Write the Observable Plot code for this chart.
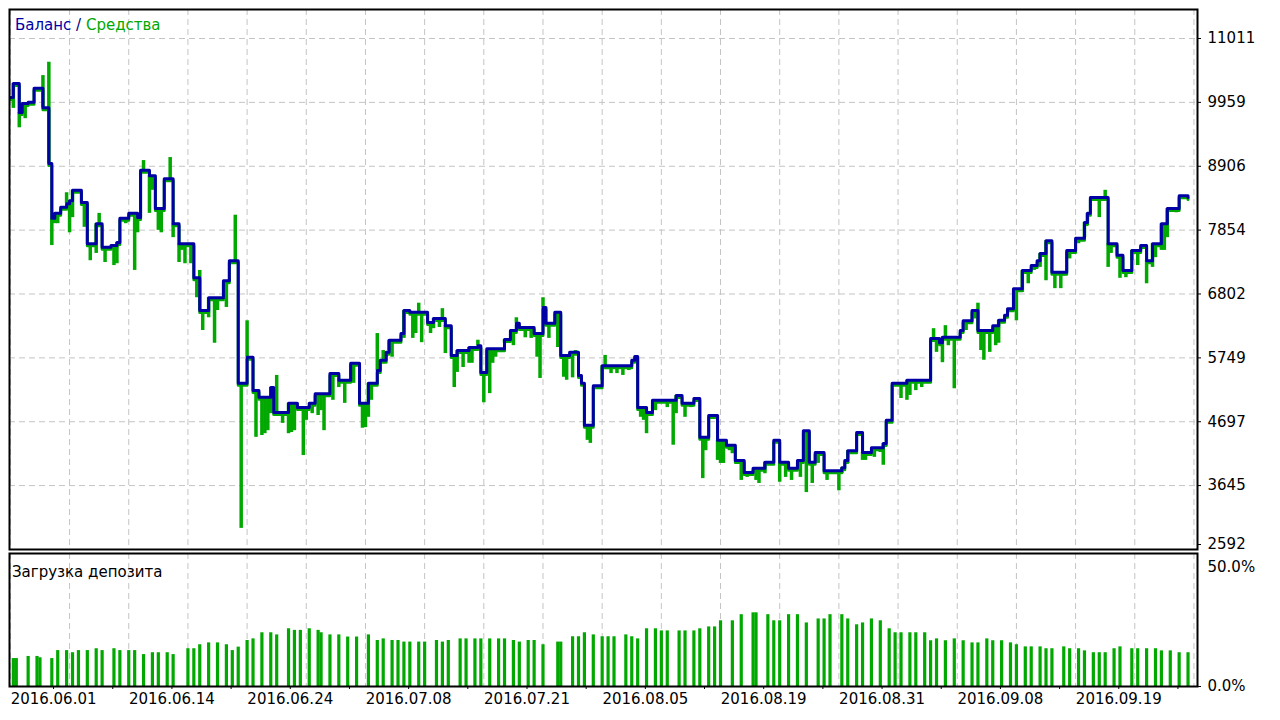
<!DOCTYPE html>
<html><head><meta charset="utf-8">
<script src="https://cdn.jsdelivr.net/npm/d3@7"></script>
<script src="https://cdn.jsdelivr.net/npm/@observablehq/plot@0.6"></script>
<style>
body{margin:0;background:#fff;font-family:"DejaVu Sans",sans-serif;}
#wrap{position:relative;width:1280px;height:720px;overflow:hidden;background:#fff}
#top,#bot{position:absolute;left:0}
#top{top:0}
#bot{top:552px}
.lbl{position:absolute;font-size:15px;line-height:18px;white-space:nowrap}
</style></head><body>
<div id="wrap"><div id="top"></div><div id="bot"></div>
<div class="lbl" style="left:15px;top:16px"><span style="color:#0000a5">Баланс</span> <span style="color:#00007a">/</span> <span style="color:#00a800">Средства</span></div>
<div class="lbl" style="left:12px;top:563px;color:#000">Загрузка депозита</div>
</div>
<script>
// Balance (step line): trade number and balance value
const balT = [0,1,3,4,6,8,11,13,14,15,17,19,20,21,24,26,29,31,34,36,37,40,43,44,47,49,52,55,57,62,64,67,72,74,77,80,82,84,88,89,94,97,101,103,108,111,115,118,121,124,125,127,128,132,133,135,141,143,147,149,151,155,158,159,161,167,169,171,172,177,180,181,184,186,189,192,193,194,197,200,210,211,212,215,217,225,227,231,233,236,239,242,245,248,251,255,258,260,263,266,268,270,272,275,281,282,283,286,288,291,295,296,298,303,311,314,315,321,322,325,327,332,334,336,337,339,342,345,347,348,350,352,357,360,363,364,365,371,374,376,379,382,384,386,389,391,395,398];
const balV = [10040,10270,9790,9940,9960,10190,9870,8950,8050,8130,8230,8290,8340,8510,8310,7630,7960,7570,7600,7650,8050,8130,8060,8840,8750,8210,8700,7960,7630,7070,6530,6740,7020,7350,5330,5760,5210,5100,5260,4850,5000,4930,5000,5160,5490,5380,5660,5000,5330,5540,5710,5840,6040,6150,6530,6500,6330,6400,6280,5790,5870,5920,5950,5510,5900,6050,6200,6320,6250,6150,6580,6320,6500,5790,5840,5460,5330,4640,5290,5620,5710,5770,4930,4850,5050,5130,5000,5080,4440,4800,4390,4310,4060,3860,3930,4030,4390,4030,3930,4060,4550,4030,4190,3890,3940,4060,4220,4520,4190,4270,4340,4720,5330,5380,6070,6000,6090,6200,6360,6530,6200,6280,6370,6450,6560,6890,7190,7270,7350,7470,7680,7160,7520,7720,7980,8130,8390,7630,7440,7190,7520,7600,7350,7630,7960,8210,8420,8390];

// Equity excursions: trade number and extreme equity value
const eqT = [1,3,5,11,13,14,15,16,19,20,21,25,27,29,30,32,33,35,36,39,42,43,45,47,48,50,51,54,55,57,58,59,61,63,64,65,67,69,70,73,76,78,80,83,85,86,87,88,90,92,94,95,96,99,100,102,104,105,106,109,111,113,116,119,120,121,122,124,126,127,128,129,133,136,137,138,139,142,143,145,146,147,150,151,153,155,156,158,160,162,163,164,165,167,170,171,174,176,178,179,180,182,185,187,188,190,191,195,196,198,200,201,203,205,207,209,213,214,215,218,222,224,225,228,230,234,235,239,240,241,243,244,247,249,252,253,255,260,262,264,267,269,271,273,276,278,280,281,283,288,289,292,294,295,301,303,304,306,308,312,313,315,316,317,319,323,326,327,328,329,331,333,334,340,342,344,346,348,350,353,355,356,358,361,363,364,368,370,371,372,375,377,379,381,384,386,387,389,390,391,394];
const eqV = [9860,9540,9690,10400,10620,7600,7960,7960,8470,7810,8060,7900,7350,7470,8130,7320,7570,7270,7300,7960,7190,7810,9000,8130,8510,7850,7810,9050,7730,7320,7520,7300,7300,6740,7190,6200,6410,5990,6530,6580,8100,2940,6360,4440,4470,4500,4550,4830,5460,4670,4500,4520,4550,4140,4720,4830,4800,4880,4550,5050,5260,5000,5330,4590,4600,4770,5050,6150,5870,5760,5870,5760,6070,6070,6150,6650,6000,6150,6230,6250,6560,5820,5260,5510,5590,5660,5660,6040,5010,5160,5660,5760,5870,5990,5950,6410,6080,6070,5760,5410,6740,6070,5920,5430,5380,5420,5870,4390,4340,5260,5380,5790,5490,5490,5460,5540,4770,4720,4500,4880,4930,4310,4830,4770,4930,3760,4220,4060,4010,4010,4220,4170,3730,3780,3730,3680,3840,3700,3780,3730,3780,3530,3680,4010,3730,3890,3560,3840,4010,4060,4060,4110,4190,3980,5080,5050,5130,5210,5260,6230,5840,5670,6280,5950,5240,6200,6390,6650,5870,5710,5840,5950,5990,6360,6830,6970,7190,7240,7020,6890,6890,7100,7380,7630,7730,7930,8060,8510,7240,7470,7060,7070,7350,7270,6970,7240,7400,7520,7520,7730,8140];

// Deposit load (%): trade number and load
const loadT = [1,2,6,9,10,14,16,19,21,23,26,29,31,35,37,40,42,45,48,50,53,55,60,62,64,67,70,73,75,77,80,82,85,88,90,94,96,98,101,104,105,108,111,114,117,121,124,126,129,131,133,135,138,140,144,146,148,152,154,157,159,162,165,167,170,172,175,177,180,185,186,190,192,194,197,200,202,204,208,210,212,215,218,220,222,226,228,231,233,236,238,240,244,247,251,252,256,258,260,263,266,269,273,275,277,281,283,286,288,291,294,297,299,301,304,306,309,311,313,316,319,322,325,327,330,332,335,338,340,343,345,348,350,352,356,358,361,363,366,368,370,373,375,379,381,384,387,389,392,395,398];
const loadP = [10.5,10.5,11.3,11.3,10.8,10.5,13.5,13.5,12.7,13.5,13.5,14.2,13.5,14.2,13.5,13.5,13.5,12.0,12.7,12.7,12.7,12.0,14.2,14.2,15.7,16.4,16.4,15.7,13.5,14.8,17.3,17.9,20.2,20.2,19.4,21.7,21.1,21.1,21.7,21.1,20.2,19.4,19.4,18.6,18.6,19.4,17.3,17.9,17.3,17.3,16.7,16.7,16.7,16.7,17.3,16.7,17.3,17.9,17.9,17.9,17.9,17.9,17.9,17.9,17.3,16.7,17.3,17.3,15.7,16.7,16.7,18.7,18.7,20.2,19.4,18.7,18.7,18.7,19.4,18.7,17.9,21.7,21.7,20.9,20.9,20.9,20.9,20.9,21.7,22.4,22.4,24.7,24.7,27.0,27.7,27.7,27.0,24.7,24.7,27.0,27.0,23.9,25.4,25.4,27.0,27.0,25.4,23.2,23.9,25.4,24.7,21.7,20.2,20.2,20.2,20.2,20.2,17.2,17.9,17.2,17.9,17.2,16.4,16.4,17.9,17.2,17.2,16.4,15.7,14.9,14.9,14.9,14.2,14.2,14.9,14.2,14.2,13.4,12.7,12.7,12.7,14.2,14.9,14.2,14.2,14.2,14.2,13.4,13.4,12.7,12.7];

// Axis ticks
const yTicks = [2592,3645,4697,5749,6802,7854,8906,9959,11011];
const xGrid = d3.range(0, 401, 20);
const dateTicks = [20,60,100,140,180,220,260,300,340,380];
const dateLabels = ["2016.06.01","2016.06.14","2016.06.24","2016.07.08","2016.07.21","2016.08.05","2016.08.19","2016.08.31","2016.09.08","2016.09.19"];

const BLUE = "#0000a5", GREEN = "#00a800", GRID = "#c4c4c4";
const FONT = '"DejaVu Sans", sans-serif';

const balance = balT.map((t,i)=>({t, v: balV[i]}));
const bis = d3.bisector(d=>d.t).right;
const balAt = t => balance[Math.max(0, bis(balance, t)-1)].v;
const equity = eqT.map((t,i)=>({t, b: balAt(t), e: eqV[i]}));
const load = loadT.map((t,i)=>({t, p: loadP[i]}));
const labelMap = new Map(dateTicks.map((t,i)=>[t, dateLabels[i]]));
const xDomain = [-0.3, 401.2];
const dash = {stroke: GRID, strokeDasharray: "6,4", strokeWidth: 1};

const chartTop = Plot.plot({
  width: 1280, height: 552,
  marginLeft: 9, marginRight: 83, marginTop: 9, marginBottom: 3,
  style: {fontFamily: FONT, fontSize: "15px", background: "#fff", color: "#000"},
  x: {domain: xDomain, axis: null},
  y: {domain: [2592, 11489], axis: null},
  marks: [
    Plot.ruleX(xGrid, dash),
    Plot.ruleY(yTicks.slice(1), dash),
    Plot.ruleX(equity, {x: "t", y1: "b", y2: "e", stroke: GREEN, strokeWidth: 3.5}),
    Plot.line(balance, {x: "t", y: "v", curve: "step-after", stroke: GREEN, strokeWidth: 3, dy: 2}),
    Plot.line(balance, {x: "t", y: "v", curve: "step-after", stroke: BLUE, strokeWidth: 3}),
    Plot.frame({stroke: "#000", strokeWidth: 2}),
    Plot.axisY(yTicks.slice(1), {anchor: "right", label: null, tickSize: 3, tickPadding: 7, tickFormat: d => String(d), fontSize: 15}),
    Plot.axisY(yTicks.slice(0, 1), {anchor: "right", label: null, tickSize: 3, tickPadding: 7, tickFormat: d => String(d), fontSize: 15, dy: -5})
  ]
});
document.getElementById("top").append(chartTop);

const chartBot = Plot.plot({
  width: 1280, height: 168,
  marginLeft: 9, marginRight: 83, marginTop: 1, marginBottom: 34,
  style: {fontFamily: FONT, fontSize: "15px", background: "#fff", color: "#000"},
  x: {domain: xDomain, axis: null},
  y: {domain: [0, 50], axis: null},
  marks: [
    Plot.ruleX(xGrid, dash),
    Plot.ruleX(load, {x: "t", y1: 0, y2: "p", stroke: GREEN, strokeWidth: 3.2}),
    Plot.frame({stroke: "#000", strokeWidth: 2}),
    Plot.axisX(xGrid, {anchor: "bottom", label: null, tickSize: 3, tickPadding: 4, dx: -16, tickFormat: d => labelMap.get(d) ?? "", fontSize: 15}),
    Plot.axisY([0], {anchor: "right", label: null, tickSize: 3, tickPadding: 7, tickFormat: d => d.toFixed(1) + "%", fontSize: 15}),
    Plot.text([50], {y: d => d, frameAnchor: "right", dx: 10, dy: 14, textAnchor: "start", text: d => d.toFixed(1) + "%", fontSize: 15})
  ]
});
document.getElementById("bot").append(chartBot);
</script>
</body></html>
